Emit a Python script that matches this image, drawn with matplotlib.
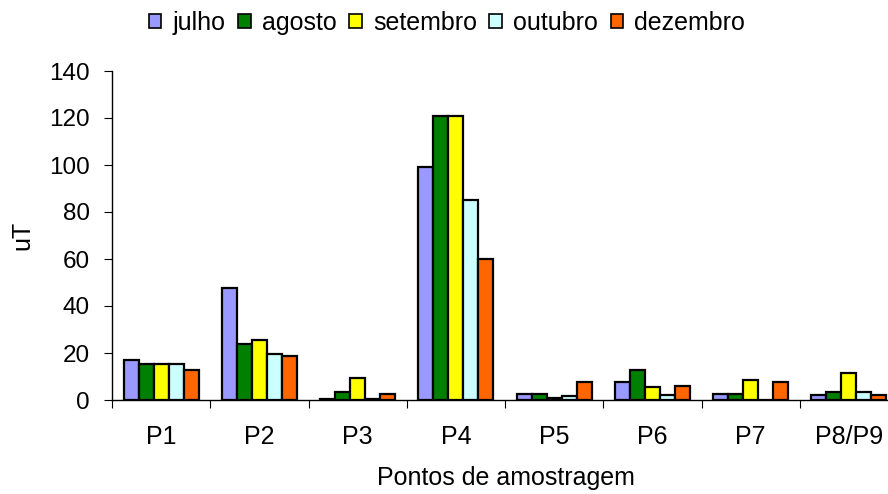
import matplotlib
matplotlib.use("Agg")
import matplotlib.pyplot as plt
import numpy as np

plt.rcParams['font.family'] = ['Liberation Sans', 'DejaVu Sans']

categories = ["P1", "P2", "P3", "P4", "P5", "P6", "P7", "P8/P9"]
series_names = ["julho", "agosto", "setembro", "outubro", "dezembro"]
julho = [17, 47.5, 0.5, 99, 2.5, 7.5, 2.5, 2.3]
agosto = [15.3, 23.7, 3.4, 121, 2.5, 12.6, 2.5, 3.5]
setembro = [15.3, 25.4, 9.2, 121, 0.7, 5.6, 8.3, 11.7]
outubro = [15.3, 19.4, 0.5, 85, 1.5, 2.3, 0, 3.5]
dezembro = [12.6, 18.8, 2.6, 60, 7.5, 5.8, 7.5, 2.2]
colors = ["#9999FF", "#008000", "#FFFF00", "#CCFFFF", "#FF6600"]
yticks = [0, 20, 40, 60, 80, 100, 120, 140]

data = [julho, agosto, setembro, outubro, dezembro]

fig = plt.figure(figsize=(8.88, 4.94), dpi=100)
ax = fig.add_axes([112/888, 1-400/494, 786/888, 329/494])

n = len(categories)
x = np.arange(n)
bw = 0.153
for i, (vals, c, name) in enumerate(zip(data, colors, series_names)):
    ax.bar(x + (i - 2) * bw, vals, width=bw, color=c, edgecolor='black',
           linewidth=1.6, label=name, zorder=3)

ax.set_xlim(-0.5, n - 0.5)
ax.set_ylim(0, 140)
ax.set_yticks(yticks)
ax.set_xticks(np.arange(n + 1) - 0.5, minor=False)
ax.set_xticklabels([])
ax.set_xticks(x, minor=True)
ax.set_xticklabels(categories, minor=True)
ax.tick_params(axis='x', which='minor', length=0, labelsize=18, pad=18)
ax.tick_params(axis='x', which='major', length=6, direction='out', color='black')
ax.tick_params(axis='y', length=6, direction='out', labelsize=17.5, pad=10)
for s in ['top', 'right']:
    ax.spines[s].set_visible(False)
ax.spines['left'].set_linewidth(1.0)
ax.spines['bottom'].set_color('black')
ax.spines['bottom'].set_linewidth(1.0)

ax.set_ylabel("uT", fontsize=18)
ax.yaxis.set_label_coords(34/888, (1-235/494), transform=fig.transFigure)
ax.set_xlabel("Pontos de amostragem", fontsize=18)
ax.xaxis.set_label_coords(506/888, 1-466/494, transform=fig.transFigure)

leg = fig.legend(loc='center', bbox_to_anchor=(447/888, 1-23/494), ncol=5,
                 frameon=False, fontsize=18, handlelength=0.5, handleheight=0.5,
                 handletextpad=0.45, columnspacing=0.5)
for h in leg.legend_handles:
    h.set_linewidth(1.2)

fig.savefig("out.png", dpi=100)
